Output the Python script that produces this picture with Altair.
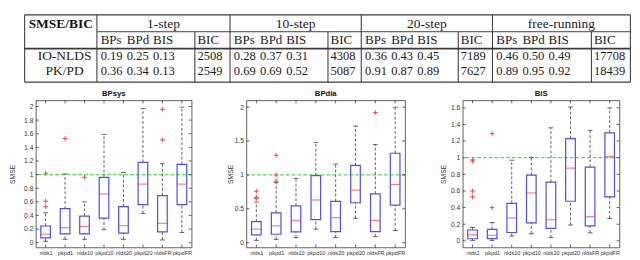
import altair as alt
import pandas as pd

# ------------------------------------------------------------------ table data
methods = ["IO-NLDS", "PK/PD"]
horizons = ["1-step", "10-step", "20-step", "free-running"]
metrics = ["BPs", "BPd", "BIS"]
bic_name = "BIC"
corner = "SMSE/BIC"
io_nlds_smse = [[0.19, 0.25, 0.13], [0.28, 0.37, 0.31], [0.36, 0.43, 0.45], [0.46, 0.50, 0.49]]
io_nlds_bic = [2508, 4308, 7189, 17708]
pkpd_smse = [[0.36, 0.34, 0.13], [0.69, 0.69, 0.52], [0.91, 0.87, 0.89], [0.89, 0.95, 0.92]]
pkpd_bic = [2549, 5087, 7627, 18439]

# ------------------------------------------------------------------ box plot data
categories = ["nlds1", "pkpd1", "nlds10", "pkpd10", "nlds20", "pkpd20", "nldsFR", "pkpdFR"]

bpsys_lo = [0.02, 0.05, 0.05, 0.19, 0.05, 0.43, 0.04, 0.15]
bpsys_q1 = [0.07, 0.13, 0.13, 0.36, 0.14, 0.56, 0.16, 0.56]
bpsys_med = [0.125, 0.22, 0.24, 0.715, 0.25, 0.86, 0.285, 0.86]
bpsys_q3 = [0.245, 0.50, 0.39, 0.96, 0.53, 1.18, 0.69, 1.15]
bpsys_hi = [0.44, 1.01, 0.60, 1.59, 1.03, 1.97, 1.16, 1.99]
bpsys_out = {"nlds1": [0.53, 0.61, 1.02], "pkpd1": [1.53], "nlds10": [0.96], "nldsFR": [1.51, 1.96]}

bpdia_lo = [0.035, 0.05, 0.075, 0.20, 0.075, 0.36, 0.09, 0.18]
bpdia_q1 = [0.115, 0.125, 0.16, 0.34, 0.165, 0.59, 0.165, 0.555]
bpdia_med = [0.20, 0.25, 0.33, 0.63, 0.37, 0.775, 0.33, 0.86]
bpdia_q3 = [0.31, 0.44, 0.545, 0.99, 0.61, 1.14, 0.72, 1.32]
bpdia_hi = [0.60, 0.89, 0.95, 1.48, 1.16, 1.72, 1.45, 2.00]
bpdia_out = {"nlds1": [0.65, 0.67, 0.76], "pkpd1": [0.91, 1.00, 1.29], "nldsFR": [1.92]}

bis_lo = [0.005, 0.005, 0.057, 0.085, 0.038, 0.19, 0.096, 0.27]
bis_q1 = [0.025, 0.027, 0.10, 0.215, 0.15, 0.476, 0.18, 0.53]
bis_med = [0.072, 0.066, 0.275, 0.576, 0.253, 0.875, 0.29, 1.015]
bis_q3 = [0.13, 0.137, 0.45, 0.79, 0.706, 1.23, 0.887, 1.30]
bis_hi = [0.16, 0.22, 0.97, 1.005, 1.36, 1.61, 1.33, 1.60]
bis_out = {"nlds1": [0.53, 0.60, 0.96, 0.975], "pkpd1": [0.40, 1.29]}

ticks_bpsys = [0, 0.2, 0.4, 0.6, 0.8, 1, 1.2, 1.4, 1.6, 1.8, 2]
ticks_bpdia = [0, 0.5, 1, 1.5, 2]
ticks_bis = [0, 0.2, 0.4, 0.6, 0.8, 1, 1.2, 1.4, 1.6]

# ------------------------------------------------------------------ styling / layout
SERIF = "Liberation Serif"
SANS = "Liberation Sans"
BLUE = "#4d4df5"
RED = "#ff4040"
GREEN = "#55e055"
INK = "#333333"

# table layout (in table units)
T_X0, T_X1 = 1, 638
T_Y0, T_Y1 = 1, 76.5
label_col = 77
group_edges = [77, 217, 355, 493, 638]
bic_edges = [180, 320, 457, 597]
row_y = [11, 30, 47.2, 64.6]
sub_offsets = [4, 31.5, 59]

TX = alt.Scale(domain=[T_X0, T_X1], nice=False, zero=False)
TY = alt.Scale(domain=[T_Y0, T_Y1], nice=False, zero=False, reverse=True)

rules = []
rules.append((T_X0, T_X1, T_Y0, T_Y0, 1.3))
rules.append((label_col, T_X1, 20, 20, 1.0))
rules.append((T_X0, T_X1, 39, 39, 1.8))
rules.append((T_X0, T_X1, T_Y1, T_Y1, 1.3))
for xe in [T_X0, label_col] + group_edges[1:-1] + [T_X1]:
    rules.append((xe, xe, T_Y0, T_Y1, 1.1))
for xe in bic_edges:
    rules.append((xe, xe, 20, T_Y1, 1.1))
rules_df = pd.DataFrame(rules, columns=["x", "x2", "y", "y2", "w"])

head_txt = []
left_head = []
num_txt = []
for gi, h in enumerate(horizons):
    g0, g1 = group_edges[gi], group_edges[gi + 1]
    head_txt.append(((g0 + g1) / 2, row_y[0], h))
    for mi, m in enumerate(metrics):
        left_head.append((g0 + sub_offsets[mi], row_y[1], m))
        num_txt.append((g0 + sub_offsets[mi], row_y[2], f"{io_nlds_smse[gi][mi]:.2f}"))
        num_txt.append((g0 + sub_offsets[mi], row_y[3], f"{pkpd_smse[gi][mi]:.2f}"))
    left_head.append((bic_edges[gi] + 2.7, row_y[1], bic_name))
    num_txt.append((bic_edges[gi] + 2.7, row_y[2], str(io_nlds_bic[gi])))
    num_txt.append((bic_edges[gi] + 2.7, row_y[3], str(pkpd_bic[gi])))
head_txt.append((43, row_y[2], methods[0]))
head_txt.append((43, row_y[3], methods[1]))
head_df = pd.DataFrame(head_txt, columns=["x", "y", "t"])
lhead_df = pd.DataFrame(left_head, columns=["x", "y", "t"])
num_df = pd.DataFrame(num_txt, columns=["x", "y", "t"])
bold_df = pd.DataFrame([(39, row_y[0], corner)], columns=["x", "y", "t"])


def tenc(ch):
    return ch.encode(x=alt.X("x:Q", scale=TX, axis=None), y=alt.Y("y:Q", scale=TY, axis=None), text="t:N")


t_rules = alt.Chart(rules_df).mark_rule(color="#3a3a3a").encode(
    x=alt.X("x:Q", scale=TX, axis=None), x2="x2:Q",
    y=alt.Y("y:Q", scale=TY, axis=None), y2="y2:Q",
    strokeWidth=alt.StrokeWidth("w:Q", scale=None, legend=None),
)
t_head = tenc(alt.Chart(head_df).mark_text(font=SERIF, fontSize=14, align="center", baseline="middle", color="#1a1a1a"))
t_lhead = tenc(alt.Chart(lhead_df).mark_text(font=SERIF, fontSize=13.5, align="left", baseline="middle", color="#1a1a1a"))
t_num = tenc(alt.Chart(num_df).mark_text(font=SERIF, fontSize=13, align="left", baseline="middle", color="#1a1a1a"))
t_bold = tenc(alt.Chart(bold_df).mark_text(font=SERIF, fontSize=14, fontWeight="bold", align="center", baseline="middle", color="#111"))

table = alt.layer(t_rules, t_head, t_lhead, t_num, t_bold).properties(
    width=630, height=70, view=alt.ViewBackground(stroke="transparent"))

PANEL_H = 153


def panel(title, lo, q1, med, q3, hi, outl, domain, ticks, width, tpad):
    df = pd.DataFrame({"cat": categories, "lo": lo, "q1": q1, "med": med, "q3": q3, "hi": hi})
    out_df = pd.DataFrame([(c, v) for c, vs in outl.items() for v in vs], columns=["cat", "v"])
    xs = alt.Scale(type="point", domain=categories, padding=0.5)
    xax = alt.Axis(title=None, domain=False, ticks=False, tickSize=0, labelPadding=2, labelFontSize=5.8,
                   labelAngle=0, labelColor=INK, labelFont=SANS, grid=False, labelOverlap=False)
    ys = alt.Scale(domain=domain, nice=False, zero=False)
    yax = alt.Axis(title="SMSE", values=ticks, format="~g", grid=False, domain=False, ticks=False, tickSize=0,
                   labelPadding=3, labelFontSize=7, labelFont=SANS, labelColor=INK, titleFont=SANS,
                   titleFontSize=7, titleFontWeight="normal", titleColor=INK, titlePadding=tpad,
                   minExtent=13, maxExtent=13)

    def X():
        return alt.X("cat:N", scale=xs, axis=xax)

    def Y(f):
        return alt.Y(f + ":Q", scale=ys, axis=yax)

    base = alt.Chart(df)
    green = alt.Chart(pd.DataFrame({"y": [1.0]})).mark_rule(color=GREEN, strokeDash=[4, 2], strokeWidth=1.3).encode(y=Y("y"))
    wh_hi = base.mark_rule(color=INK, strokeDash=[3, 2], strokeWidth=0.8).encode(x=X(), y=Y("q3"), y2="hi:Q")
    wh_lo = base.mark_rule(color=INK, strokeDash=[3, 2], strokeWidth=0.8).encode(x=X(), y=Y("lo"), y2="q1:Q")
    cap_hi = base.mark_tick(color="#222", size=5, thickness=1).encode(x=X(), y=Y("hi"))
    cap_lo = base.mark_tick(color="#222", size=5, thickness=1).encode(x=X(), y=Y("lo"))
    box = base.mark_bar(fill="transparent", stroke=BLUE, strokeWidth=1.25, size=10).encode(x=X(), y=Y("q1"), y2="q3:Q")
    medm = base.mark_tick(color=RED, size=10, thickness=1.2).encode(x=X(), y=Y("med"))
    outm = alt.Chart(out_df).mark_point(shape="M-1,0L1,0M0,-1L0,1", filled=False, color=RED, size=24,
                                        strokeWidth=1, opacity=1).encode(x=X(), y=Y("v"))
    tdf = pd.DataFrame({"t": ticks})
    ytl = alt.Chart(tdf).mark_rule(color=INK, strokeWidth=0.8).encode(y=Y("t"), x=alt.value(0), x2=alt.value(3))
    ytr = alt.Chart(tdf).mark_rule(color=INK, strokeWidth=0.8).encode(y=Y("t"), x=alt.value(width - 3), x2=alt.value(width))
    cdf = pd.DataFrame({"cat": categories})
    xtb = alt.Chart(cdf).mark_rule(color=INK, strokeWidth=0.8).encode(x=X(), y=alt.value(PANEL_H - 3), y2=alt.value(PANEL_H))
    xtt = alt.Chart(cdf).mark_rule(color=INK, strokeWidth=0.8).encode(x=X(), y=alt.value(0), y2=alt.value(3))
    return alt.layer(green, wh_hi, wh_lo, cap_hi, cap_lo, box, medm, outm, ytl, ytr, xtb, xtt).properties(
        width=width, height=PANEL_H,
        title=alt.TitleParams(title, fontSize=8, fontWeight="bold", offset=2, font=SANS, color="#111"),
        view=alt.ViewBackground(stroke=INK, strokeWidth=0.8),
    )


p1 = panel("BPsys", bpsys_lo, bpsys_q1, bpsys_med, bpsys_q3, bpsys_hi, bpsys_out, [-0.07, 2.09], ticks_bpsys, 162, 8)
p2 = panel("BPdia", bpdia_lo, bpdia_q1, bpdia_med, bpdia_q3, bpdia_hi, bpdia_out, [-0.07, 2.1], ticks_bpdia, 165, 0.5)
p3 = panel("BIS", bis_lo, bis_q1, bis_med, bis_q3, bis_hi, bis_out, [-0.08, 1.69], ticks_bis, 163, 3.5)

row = alt.hconcat(p1, p2, p3, spacing=34)
chart = alt.vconcat(table, row, spacing=6, center=True).properties(padding=0).configure(
    font=SANS).configure_view(stroke="transparent")

chart.save("out.html", embed_options={"renderer": "svg", "actions": False})
